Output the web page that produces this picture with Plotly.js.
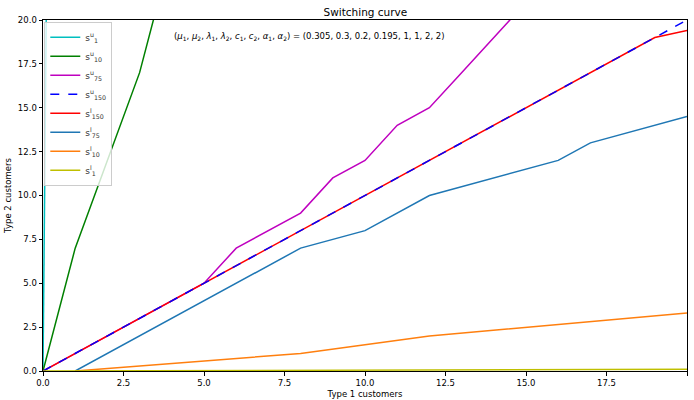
<!DOCTYPE html>
<html>
<head>
<meta charset="utf-8">
<script src="https://cdn.plot.ly/plotly-3.0.1.min.js"></script>
<style>html,body{margin:0;padding:0;background:#fff;}#chart{width:694px;height:400px;}</style>
</head>
<body>
<div id="chart"></div>
<script>
// Series data (Type 1 customers -> Type 2 customers)
const su1_x = [0, 0.1];
const su1_y = [0, 20];
const su10_x = [0, 1, 3, 4];
const su10_y = [0, 7, 17, 24];
const su75_x = [0, 5, 6, 8, 9, 10, 11, 12, 13, 14, 15];
const su75_y = [0, 5, 7, 9, 11, 12, 14, 15, 17, 19, 21];
const su150_x = [0, 19, 20];
const su150_y = [0, 19, 20];
const sl150_x = [0, 19, 20];
const sl150_y = [0, 19, 19.4];
const sl75_x = [1, 8, 10, 12, 16, 17, 20];
const sl75_y = [0, 7, 8, 10, 12, 13, 14.5];
const sl10_x = [1, 8, 10, 12, 20];
const sl10_y = [0, 1, 1.5, 2, 3.3];
const sl1_x = [0, 20];
const sl1_y = [0, 0.1];

const names = ['s<sup>u</sup><sub>1</sub>', 's<sup>u</sup><sub>10</sub>', 's<sup>u</sup><sub>75</sub>', 's<sup>u</sup><sub>150</sub>',
               's<sup>l</sup><sub>150</sub>', 's<sup>l</sup><sub>75</sub>', 's<sup>l</sup><sub>10</sub>', 's<sup>l</sup><sub>1</sub>'];
const tickVals = [0, 2.5, 5, 7.5, 10, 12.5, 15, 17.5, 20];
const tickText = ['0.0', '2.5', '5.0', '7.5', '10.0', '12.5', '15.0', '17.5', '20.0'];

const series = [
  [su1_x, su1_y, '#00bfbf', 'solid'],
  [su10_x, su10_y, '#008000', 'solid'],
  [su75_x, su75_y, '#bf00bf', 'solid'],
  [su150_x, su150_y, '#0000ff', 'dash'],
  [sl150_x, sl150_y, '#ff0000', 'solid'],
  [sl75_x, sl75_y, '#1f77b4', 'solid'],
  [sl10_x, sl10_y, '#ff7f0e', 'solid'],
  [sl1_x, sl1_y, '#bfbf00', 'solid']
];
// draw order: blue dashed on top of red
const order = [0, 1, 2, 4, 3, 5, 6, 7];
const traces = series.map((s, i) => ({
  x: s[0], y: s[1], name: names[i], mode: 'lines', type: 'scatter',
  line: {color: s[2], width: 1.5, dash: s[3]}, legendrank: i
}));

const layout = {
  width: 694, height: 400,
  margin: {l: 43, r: 7, t: 20, b: 29},
  paper_bgcolor: '#fff', plot_bgcolor: '#fff',
  font: {family: 'DejaVu Sans', size: 9, color: '#000'},
  showlegend: true,
  title: {text: 'Switching curve', font: {family: 'DejaVu Sans', size: 10.5, color: '#000'}, x: 0.5265, xanchor: 'center', y: 0.97, yanchor: 'middle'},
  xaxis: {
    range: [0, 20], tickvals: tickVals, ticktext: tickText, showgrid: false, zeroline: false,
    linecolor: '#000', linewidth: 1, mirror: true, ticks: 'outside', ticklen: 3.5, tickcolor: '#000',
    tickfont: {family: 'DejaVu Sans', size: 8.5, color: '#000'},
    title: {text: 'Type 1 customers', font: {family: 'DejaVu Sans', size: 8.5, color: '#000'}, standoff: 4}
  },
  yaxis: {
    range: [0, 20], tickvals: tickVals, ticktext: tickText, showgrid: false, zeroline: false,
    linecolor: '#000', linewidth: 1, mirror: true, ticks: 'outside', ticklen: 3.5, tickcolor: '#000',
    tickfont: {family: 'DejaVu Sans', size: 8.5, color: '#000'},
    title: {text: 'Type 2 customers', font: {family: 'DejaVu Sans', size: 8.5, color: '#000'}, standoff: 4}
  },
  legend: {
    x: 0.002, y: 0.995, xanchor: 'left', yanchor: 'top',
    bgcolor: 'rgba(255,255,255,0.8)', bordercolor: '#cccccc', borderwidth: 1,
    font: {family: 'DejaVu Sans', size: 9, color: '#333'},
    tracegroupgap: 0, itemwidth: 30, traceorder: 'normal'
  },
  annotations: [{
    xref: 'paper', yref: 'paper', x: 0.2, y: 0.953, xanchor: 'left', yanchor: 'middle', showarrow: false,
    font: {family: 'DejaVu Sans', size: 8.5, color: '#000'},
    text: '(<i>μ</i><sub>1</sub>, <i>μ</i><sub>2</sub>, <i>λ</i><sub>1</sub>, <i>λ</i><sub>2</sub>, <i>c</i><sub>1</sub>, <i>c</i><sub>2</sub>, <i>α</i><sub>1</sub>, <i>α</i><sub>2</sub>) = (0.305, 0.3, 0.2, 0.195, 1, 1, 2, 2)'
  }]
};
Plotly.newPlot('chart', order.map(i => traces[i]), layout, {displayModeBar: false, staticPlot: true});
</script>
</body>
</html>
